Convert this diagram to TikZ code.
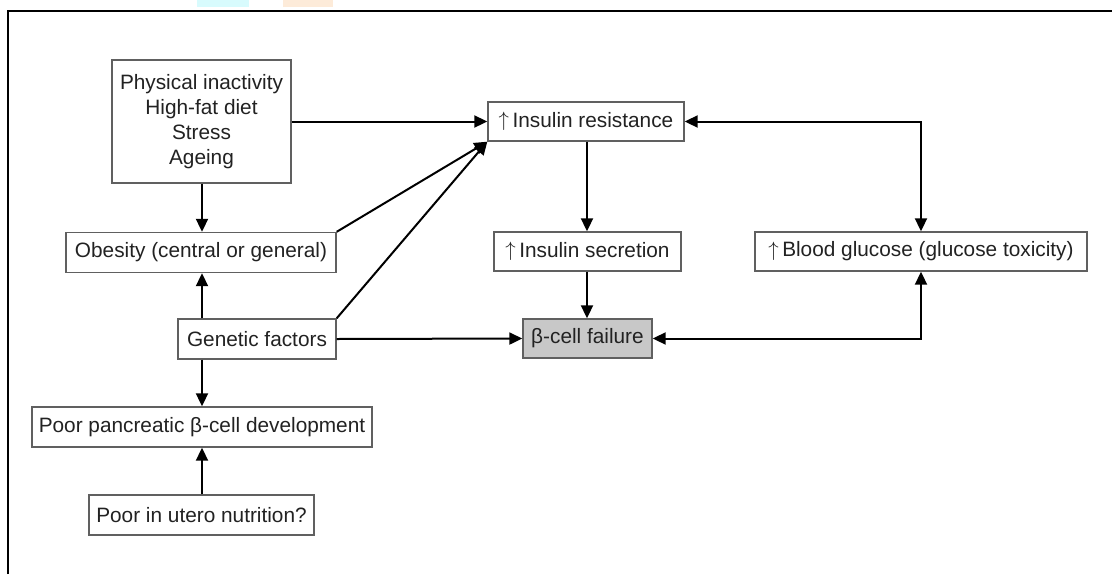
\documentclass[tikz,border=0pt]{standalone}
\usepackage{fontspec}
\setmainfont{Liberation Sans}
\usetikzlibrary{arrows.meta}
\definecolor{boxline}{HTML}{606060}
\definecolor{txt}{HTML}{222222}
\definecolor{betafill}{HTML}{C8C8C8}
\definecolor{wmcyan}{HTML}{D8FBFD}
\definecolor{wmpeach}{HTML}{FDEBD9}
\newcommand{\upar}{\raisebox{0.5pt}{$\uparrow$}\,}
\begin{document}
\begin{tikzpicture}[x=1pt,y=-1pt,
  box/.style={draw=boxline, line width=1.4pt, fill=white, inner sep=0pt, text=txt,
    font=\fontsize{20.8}{25}\selectfont, align=center},
  conn/.style={line width=2pt, -{Triangle[length=13pt,width=12pt]}},
  dconn/.style={line width=2pt, {Triangle[length=13pt,width=12pt]}-{Triangle[length=13pt,width=12pt]}}
]
\useasboundingbox (0,0) rectangle (1112,574);
% watermark traces and frame
\fill[wmcyan] (197,0) rectangle (249,7);
\fill[wmpeach] (283,0) rectangle (333,7);
\draw[line width=2.5pt] (8,574) -- (8,11) -- (1112,11);

% nodes
\node[box, minimum width=179pt, minimum height=123pt] (life) at (201.5,121.5)
  {Physical inactivity\\High-fat diet\\Stress\\Ageing};
\node[box, minimum width=196pt, minimum height=39pt] (ir) at (586,121.5) {\upar Insulin resistance};
\node[box, minimum width=270pt, minimum height=40pt] (obe) at (201,252.5) {Obesity (central or general)};
\node[box, minimum width=158pt, minimum height=40pt] (gen) at (257,339) {Genetic factors};
\node[box, minimum width=340pt, minimum height=40pt] (ppd) at (202,427) {Poor pancreatic β-cell development};
\node[box, minimum width=225pt, minimum height=40pt] (utero) at (201.5,515) {Poor in utero nutrition?};
\node[box, minimum width=187pt, minimum height=39pt] (isec) at (587.5,251.5) {\upar Insulin secretion};
\node[box, fill=betafill, minimum width=129pt, minimum height=39pt] (beta) at (587.5,338.5) {β-cell failure};
\node[box, minimum width=332pt, minimum height=39pt] (bg) at (921,251.5) {\upar Blood glucose (glucose toxicity)};

\coordinate (cTR) at (921,121.5);
\coordinate (cBR) at (921,338.5);

% connectors
\draw[conn] (life.east) -- (ir.west);
\draw[conn] (life.south -| 202,0) -- (obe.north -| 202,0);
\draw[conn] (obe.north east) -- (ir.south west);
\draw[conn] (gen.north east) -- (ir.south west);
\draw[conn] (gen.north -| 202,0) -- (obe.south -| 202,0);
\draw[conn] (gen.south -| 202,0) -- (ppd.north -| 202,0);
\draw[conn] (utero.north -| 202,0) -- (ppd.south -| 202,0);
\draw[conn] (gen.east) -- (beta.west);
\draw[conn] (ir.south -| 587,0) -- (isec.north -| 587,0);
\draw[conn] (isec.south -| 587,0) -- (beta.north -| 587,0);
\draw[dconn] (ir.east) -- (cTR) -- (bg.north -| cTR);
\draw[dconn] (beta.east) -- (cBR) -- (bg.south -| cBR);
\end{tikzpicture}
\end{document}
